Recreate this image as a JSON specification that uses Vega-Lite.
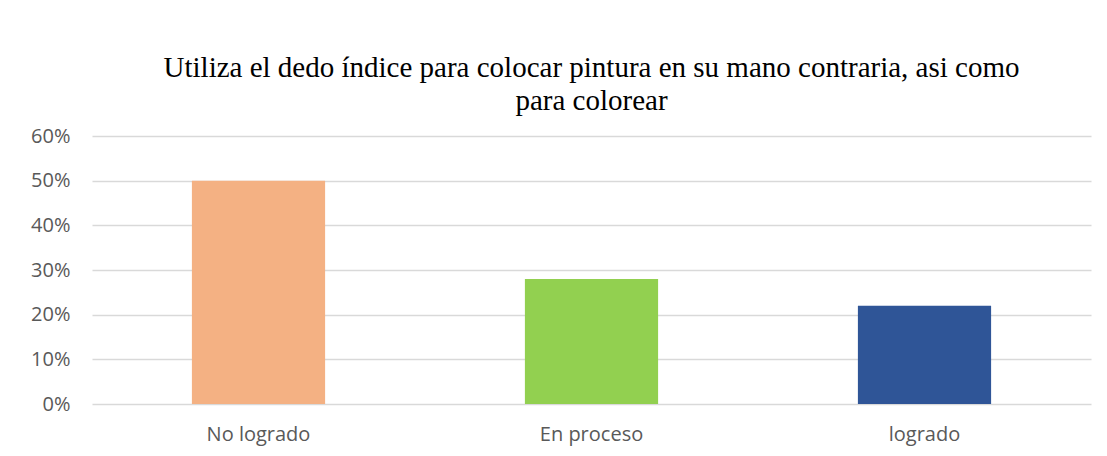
{
  "$schema": "https://vega.github.io/schema/vega-lite/v6.json",
  "autosize": {"type": "none"},
  "width": 999,
  "height": 268,
  "padding": {"left": 92, "top": 136, "right": 16, "bottom": 52},
  "background": "white",
  "title": {
    "text": ["Utiliza el dedo índice para colocar pintura en su mano contraria, asi como", "para colorear"],
    "font": "Liberation Serif",
    "fontSize": 29,
    "fontWeight": "normal",
    "color": "#000000",
    "anchor": "middle",
    "frame": "group",
    "lineHeight": 33,
    "offset": 10
  },
  "data": {
    "values": [
      {"categoria": "No logrado", "porcentaje": 0.50},
      {"categoria": "En proceso", "porcentaje": 0.28},
      {"categoria": "logrado", "porcentaje": 0.22}
    ]
  },
  "mark": {"type": "bar"},
  "encoding": {
    "x": {
      "field": "categoria",
      "type": "nominal",
      "sort": null,
      "scale": {"paddingInner": 0.6, "paddingOuter": 0.3},
      "axis": {
        "title": null,
        "labelAngle": 0,
        "labelFont": "Open Sans",
        "labelFontSize": 20,
        "labelColor": "#595959",
        "labelPadding": 20,
        "ticks": false,
        "domain": false,
        "grid": false
      }
    },
    "y": {
      "field": "porcentaje",
      "type": "quantitative",
      "scale": {"domain": [0, 0.6]},
      "axis": {
        "title": null,
        "values": [0, 0.1, 0.2, 0.3, 0.4, 0.5, 0.6],
        "format": ".0%",
        "labelFont": "Open Sans",
        "labelFontSize": 20,
        "labelColor": "#595959",
        "labelPadding": 22,
        "ticks": false,
        "domain": false,
        "grid": true,
        "gridColor": "#D9D9D9",
        "gridWidth": 1.5
      }
    },
    "color": {
      "field": "categoria",
      "type": "nominal",
      "sort": null,
      "scale": {"domain": ["No logrado", "En proceso", "logrado"], "range": ["#F4B183", "#92D050", "#2F5597"]},
      "legend": null
    }
  },
  "config": {
    "view": {"stroke": null}
  }
}
